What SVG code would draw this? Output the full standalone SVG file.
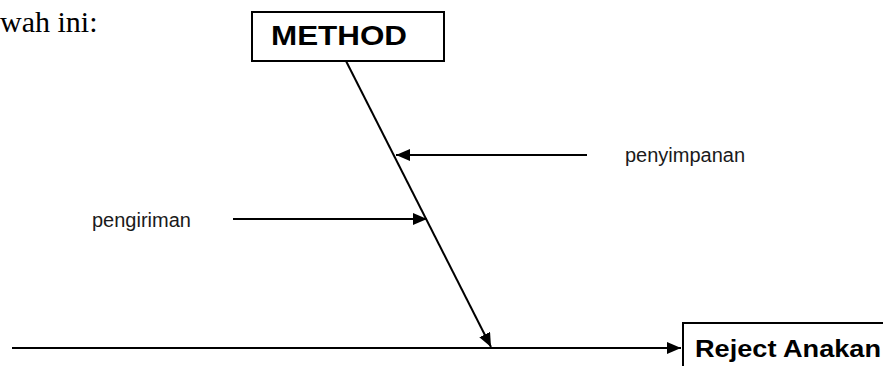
<svg xmlns="http://www.w3.org/2000/svg" width="883" height="366" viewBox="0 0 883 366">
<style>
.ln{stroke:#000;stroke-width:2;fill:none}
.box{stroke:#000;stroke-width:2;fill:#fff}
.lbl{font-family:"Liberation Sans",Arial,sans-serif;font-size:20px;fill:#1a1a1a}
.bold{font-family:"Liberation Sans",Arial,sans-serif;font-weight:bold;fill:#000}
</style>
<defs>
<marker id="ah" viewBox="0 0 14 12" refX="14" refY="6" markerWidth="14" markerHeight="12" markerUnits="userSpaceOnUse" orient="auto">
<path d="M0,0 L14,6 L0,12 Z" fill="#000"/>
</marker>
</defs>
<text x="0" y="32" font-family="'Liberation Serif','Times New Roman',serif" font-size="30" fill="#000">wah ini:</text>
<g id="connectors">
<line class="ln" x1="12" y1="348" x2="681" y2="348" marker-end="url(#ah)"/>
<line class="ln" x1="346" y1="61" x2="491" y2="347" marker-end="url(#ah)"/>
<line class="ln" x1="587" y1="155" x2="396" y2="155" marker-end="url(#ah)"/>
<line class="ln" x1="233" y1="219" x2="427" y2="219" marker-end="url(#ah)"/>
</g>
<g id="method">
<rect class="box" x="252" y="12" width="192" height="49"/>
<text class="bold" x="271" y="45" font-size="28" textLength="136" lengthAdjust="spacingAndGlyphs">METHOD</text>
</g>
<g id="reject">
<rect class="box" x="683" y="323" width="220" height="60"/>
<text class="bold" x="695" y="357" font-size="23" textLength="186" lengthAdjust="spacingAndGlyphs">Reject Anakan</text>
</g>
<g id="penyimpanan">
<text class="lbl" x="625" y="162">penyimpanan</text>
</g>
<g id="pengiriman">
<text class="lbl" x="92" y="227">pengiriman</text>
</g>
</svg>
